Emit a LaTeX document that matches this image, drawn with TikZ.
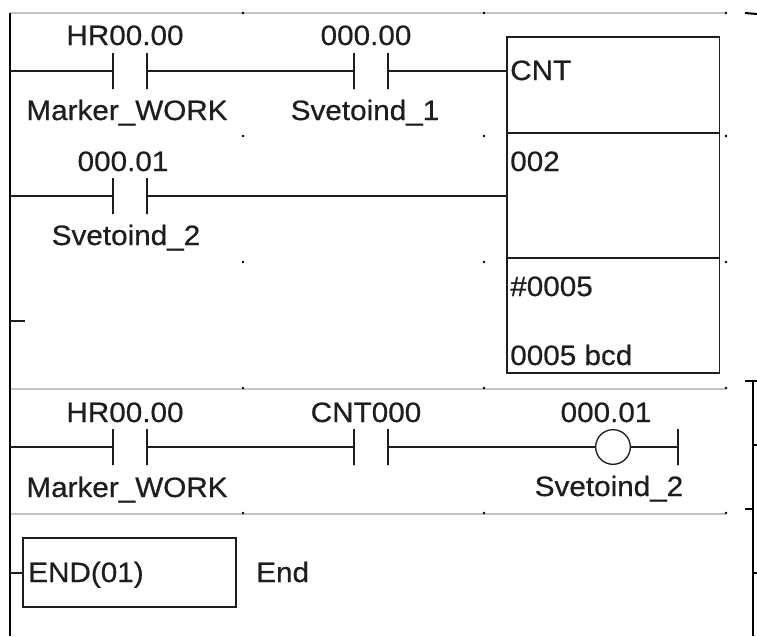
\documentclass[tikz,border=0pt]{standalone}
\usepackage{fontspec}
\setmainfont[FakeStretch=1.06,FakeBold=0.6]{Liberation Sans}
\definecolor{gridgrey}{HTML}{C4C4C4}
\definecolor{ink}{HTML}{1E1E1E}
\tikzset{
  lbl/.style={font=\fontsize{21}{25}\selectfont, text=ink, inner sep=0pt, anchor=base},
  lblleft/.style={lbl, anchor=base west},
  wire/.style={ink, line width=1.1pt},
  rail/.style={black, line width=1.5pt},
  gridline/.style={gridgrey, line width=0.9pt},
  griddot/.style={circle, fill=black, inner sep=0pt, minimum size=2pt},
  plate/.style={draw=ink, line width=1.1pt, inner sep=0pt, outer sep=0pt, minimum width=0pt, minimum height=27pt},
  bigbox/.style={draw=ink, line width=1.1pt, inner sep=0pt, outer sep=0pt, minimum width=159.4pt},
  coil/.style={circle, draw=ink, line width=1pt, inner sep=0pt, outer sep=0pt, minimum size=26pt}
}
\begin{document}
\begin{tikzpicture}[x=0.75pt,y=-0.75pt]
\useasboundingbox (0,0) rectangle (757,636);
\coordinate (railtop) at (10,13);
\coordinate (railbot) at (10,636);
\coordinate (railA) at (10,71);
\coordinate (railB) at (10,196);
\coordinate (railS) at (10,321);
\coordinate (stubS) at (25,321);
\coordinate (railC) at (10,447);
\coordinate (railD) at (10,573);
\coordinate (gridAl) at (10,13);
\coordinate (gridAr) at (726,13);
\coordinate (gridBl) at (10,389);
\coordinate (gridBr) at (726,389);
\coordinate (gridCl) at (10,514);
\coordinate (gridCr) at (726,514);

\draw [gridline] (gridAl) -- (gridAr);
\draw [gridline] (gridBl) -- (gridBr);
\draw [gridline] (gridCl) -- (gridCr);

\node [griddot] (dotA1) at (243,13) {};
\node [griddot] (dotA2) at (484,13) {};
\node [griddot] (dotA3) at (726,13) {};
\node [griddot] (dotB1) at (243,136) {};
\node [griddot] (dotB2) at (484,136) {};
\node [griddot] (dotB3) at (726,136) {};
\node [griddot] (dotC1) at (243,262) {};
\node [griddot] (dotC2) at (484,262) {};
\node [griddot] (dotC3) at (726,262) {};
\node [griddot] (dotD1) at (243,388) {};
\node [griddot] (dotD2) at (484,388) {};
\node [griddot] (dotD3) at (726,388) {};
\node [griddot] (dotE1) at (243,513) {};
\node [griddot] (dotE2) at (484,513) {};
\node [griddot] (dotE3) at (726,513) {};

\draw [rail] (railtop) -- (railbot);
\draw [wire] (railS) -- (stubS);

\node [plate] (p1a) at (113,71) {};
\node [plate] (p1b) at (147,71) {};
\node [plate] (p2a) at (354,71) {};
\node [plate] (p2b) at (388,71) {};
\node [plate] (p3a) at (113,196) {};
\node [plate] (p3b) at (147,196) {};
\node [plate] (p4a) at (113,447) {};
\node [plate] (p4b) at (147,447) {};
\node [plate] (p5a) at (354,447) {};
\node [plate] (p5b) at (388,447) {};

\node [bigbox, minimum height=72pt] (cntA) at (613.25,85) {};
\node [bigbox, minimum height=93.75pt] (cntB) at (613.25,195.5) {};
\node [bigbox, minimum height=86.25pt] (cntC) at (613.25,315.5) {};
\node [coil] (coilA) at (613,447) {};
\node [plate] (coilend) at (678,447) {};
\node [draw=ink, line width=1.1pt, inner sep=0pt, outer sep=0pt, minimum width=159.75pt, minimum height=51.75pt] (endbox) at (129.5,572.5) {};

\draw [wire] (railA) -- (p1a);
\draw [wire] (p1b) -- (p2a);
\draw [wire] (p2b) -- (p2b -| cntA.west);
\draw [wire] (railB) -- (p3a);
\draw [wire] (p3b) -- (p3b -| cntB.west);
\draw [wire] (railC) -- (p4a);
\draw [wire] (p4b) -- (p5a);
\draw [wire] (p5b) -- (coilA);
\draw [wire] (coilA) -- (coilend);
\draw [wire] (railD) -- (railD -| endbox.west);

\node [lbl] (tagA) at (125,45) {HR00.00};
\node [lbl] (nameA) at (127,120) {Marker\_WORK};
\node [lbl] (tagB) at (366,45) {000.00};
\node [lbl] (nameB) at (365,120) {Svetoind\_1};
\node [lbl] (tagC) at (123,171) {000.01};
\node [lbl] (nameC) at (126,245) {Svetoind\_2};
\node [lbl] (tagD) at (125,422) {HR00.00};
\node [lbl] (nameD) at (127,497) {Marker\_WORK};
\node [lbl] (tagE) at (366,422) {CNT000};
\node [lbl] (tagF) at (606,422) {000.01};
\node [lbl] (nameF) at (609,496) {Svetoind\_2};

\node [lblleft] (txtcnt) at (510,80) {CNT};
\node [lblleft] (txtnum) at (510,171) {002};
\node [lblleft] (txtset) at (510,296) {\#0005};
\node [lblleft] (txtbcd) at (510,365) {0005 bcd};
\node [lblleft] (txtend) at (28,582) {END(01)};
\node [lblleft] (txtcom) at (256,582) {End};

\coordinate (markA) at (745,13);
\coordinate (markB) at (757,14);
\coordinate (brkt) at (753,381);
\coordinate (brkb) at (753,636);
\coordinate (brkl) at (745,381);
\coordinate (brkr) at (757,381);
\coordinate (tickAa) at (753,445);
\coordinate (tickAb) at (757,445);
\coordinate (tickBa) at (745,509);
\coordinate (tickBb) at (753,509);
\coordinate (tickCa) at (753,573);
\coordinate (tickCb) at (757,573);
\draw [rail] (markA) -- (markB);
\draw [rail] (brkt) -- (brkb);
\draw [rail] (brkl) -- (brkr);
\draw [rail] (tickAa) -- (tickAb);
\draw [rail] (tickBa) -- (tickBb);
\draw [rail] (tickCa) -- (tickCb);
\end{tikzpicture}
\end{document}
